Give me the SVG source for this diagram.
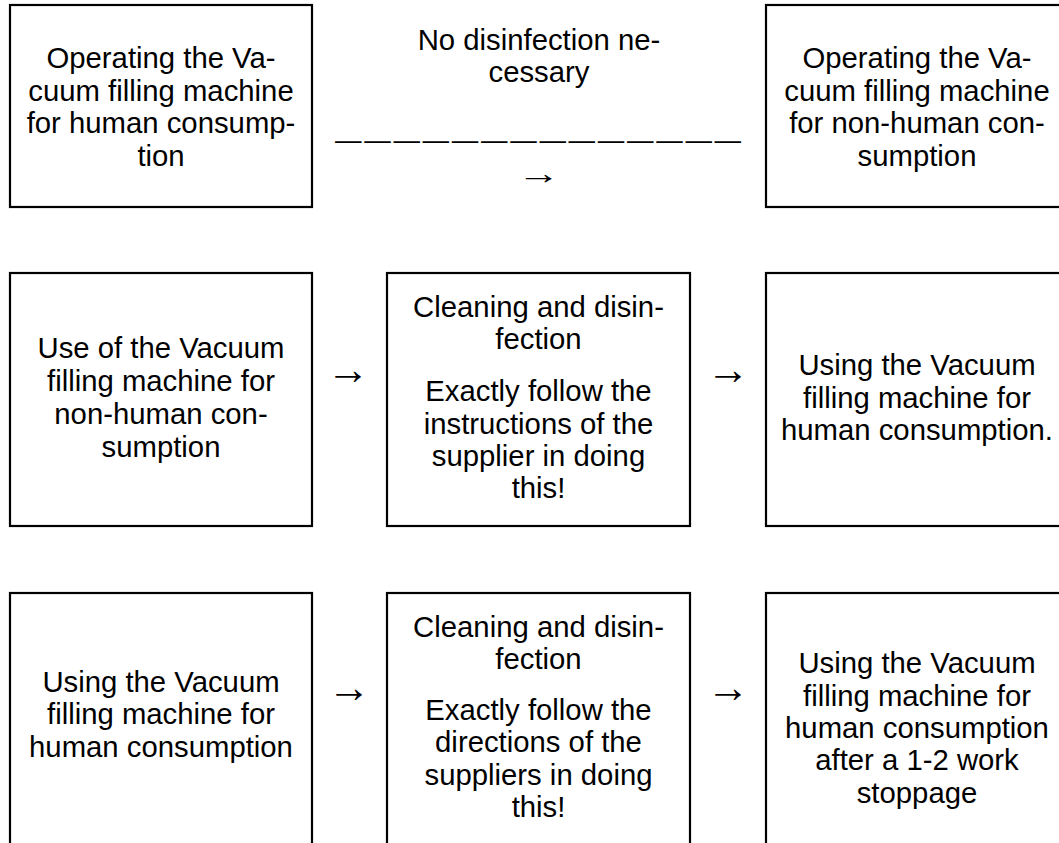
<svg xmlns="http://www.w3.org/2000/svg" width="1059" height="843" viewBox="0 0 1059 843">
<style>
.box{fill:#fff;stroke:#000;stroke-width:2.2}
.t{font-family:"Liberation Sans",Arial,sans-serif;font-size:29.3px;fill:#000;text-anchor:middle}
.arr{font-family:"Liberation Sans",Arial,sans-serif;font-size:43px;fill:#000;text-anchor:middle}
.arrs{font-family:"Liberation Sans",Arial,sans-serif;font-size:31px;fill:#000;text-anchor:middle}
.dash{font-family:"Liberation Sans",Arial,sans-serif;font-size:26.5px;letter-spacing:2.7px;fill:#000}
</style>
<rect width="1059" height="843" fill="#fff"/>
<g id="n1">
<rect class="box" x="10" y="5" width="302" height="202"/>
<text class="t" x="161" y="68">Operating the Va-</text>
<text class="t" x="161" y="100.5">cuum filling machine</text>
<text class="t" x="161" y="133">for human consump-</text>
<text class="t" x="161" y="165.5">tion</text>
</g>
<g id="n2">
<rect class="box" x="766" y="5" width="302" height="202"/>
<text class="t" x="917" y="68">Operating the Va-</text>
<text class="t" x="917" y="100.5">cuum filling machine</text>
<text class="t" x="917" y="133">for non-human con-</text>
<text class="t" x="917" y="165.5">sumption</text>
</g>
<g id="n3">
<rect class="box" x="10" y="273" width="302" height="253"/>
<text class="t" x="161" y="358">Use of the Vacuum</text>
<text class="t" x="161" y="391">filling machine for</text>
<text class="t" x="161" y="424">non-human con-</text>
<text class="t" x="161" y="457">sumption</text>
</g>
<g id="n4">
<rect class="box" x="387" y="273" width="303" height="253"/>
<text class="t" x="538.5" y="317">Cleaning and disin-</text>
<text class="t" x="538.5" y="349">fection</text>
<text class="t" x="538.5" y="401">Exactly follow the</text>
<text class="t" x="538.5" y="434">instructions of the</text>
<text class="t" x="538.5" y="466">supplier in doing</text>
<text class="t" x="538.5" y="498">this!</text>
</g>
<g id="n5">
<rect class="box" x="766" y="273" width="302" height="253"/>
<text class="t" x="917" y="375">Using the Vacuum</text>
<text class="t" x="917" y="408">filling machine for</text>
<text class="t" x="917" y="440">human consumption.</text>
</g>
<g id="n6">
<rect class="box" x="10" y="593" width="302" height="270"/>
<text class="t" x="161" y="692">Using the Vacuum</text>
<text class="t" x="161" y="724">filling machine for</text>
<text class="t" x="161" y="757">human consumption</text>
</g>
<g id="n7">
<rect class="box" x="387" y="593" width="303" height="270"/>
<text class="t" x="538.5" y="637">Cleaning and disin-</text>
<text class="t" x="538.5" y="669">fection</text>
<text class="t" x="538.5" y="720">Exactly follow the</text>
<text class="t" x="538.5" y="752">directions of the</text>
<text class="t" x="538.5" y="785">suppliers in doing</text>
<text class="t" x="538.5" y="817">this!</text>
</g>
<g id="n8">
<rect class="box" x="766" y="593" width="302" height="270"/>
<text class="t" x="917" y="673">Using the Vacuum</text>
<text class="t" x="917" y="706">filling machine for</text>
<text class="t" x="917" y="738">human consumption</text>
<text class="t" x="917" y="770">after a 1-2 work</text>
<text class="t" x="917" y="803">stoppage</text>
</g>
<g id="connectors">
<text class="t" x="539" y="50">No disinfection ne-</text>
<text class="t" x="539" y="82">cessary</text>
<text class="dash" x="335" y="149">——————————————</text>
<text class="arrs" transform="translate(539,184) scale(1.4,1)">→</text>
<text class="arr" x="348" y="384">→</text>
<text class="arr" x="728" y="384">→</text>
<text class="arr" x="349" y="702">→</text>
<text class="arr" x="728" y="702">→</text>
</g>
</svg>
